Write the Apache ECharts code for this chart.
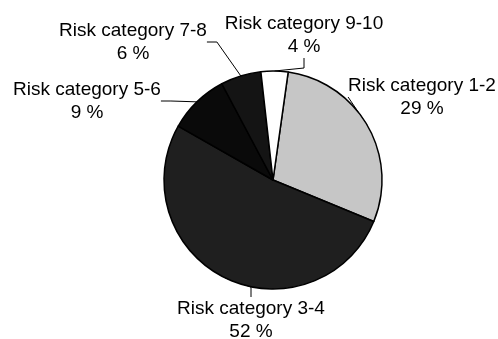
<!DOCTYPE html>
<html>
<head>
<meta charset="utf-8">
<script src="https://cdn.jsdelivr.net/npm/echarts@6/dist/echarts.min.js"></script>
<style>
  html, body { margin: 0; padding: 0; background: #fff; }
  #chart { width: 498px; height: 339px; }
</style>
</head>
<body>
<div id="chart"></div>
<script>
// categories / values
const categories = ['Risk category 1-2', 'Risk category 3-4', 'Risk category 5-6', 'Risk category 7-8', 'Risk category 9-10'];
const shares = [29, 52, 9, 6, 4];
const fills = ['#c6c6c6', '#1f1f1f', '#0a0a0a', '#141414', '#ffffff'];
// where each label block sits (centre of the two text lines)
const labelSpots = [[422, 97], [251, 320], [87, 101], [133, 42], [304, 35]];

const chart = echarts.init(document.getElementById('chart'));

chart.setOption({
  animation: false,
  series: [{
    type: 'pie',
    center: [273, 180],
    radius: 109,
    startAngle: 82,
    clockwise: true,
    data: categories.map((name, i) => ({
      name: name,
      value: shares[i],
      itemStyle: { color: fills[i] }
    })),
    itemStyle: { borderColor: '#000', borderWidth: 1.5 },
    label: {
      show: true,
      position: 'outside',
      formatter: '{b}\n{c} %',
      fontFamily: 'Liberation Sans, Arial, sans-serif',
      fontSize: 19,
      lineHeight: 23,
      color: '#000',
      align: 'center',
      overflow: 'none'
    },
    labelLine: {
      show: true,
      length: 10,
      length2: 10,
      lineStyle: { color: '#000', width: 1 }
    },
    labelLayout: (params) => {
      const spot = labelSpots[params.dataIndex];
      return {
        x: spot[0],
        y: spot[1],
        align: 'center',
        verticalAlign: 'middle'
      };
    },
    emphasis: { disabled: true }
  }]
});
</script>
</body>
</html>
